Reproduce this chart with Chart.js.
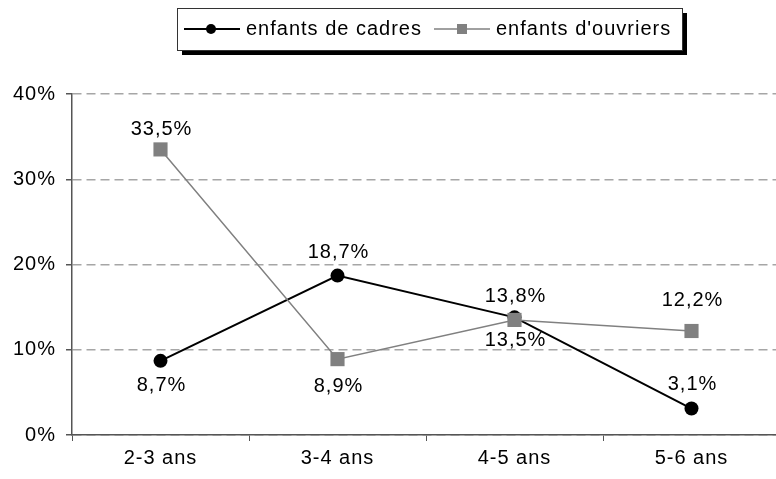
<!DOCTYPE html>
<html>
<head>
<meta charset="utf-8">
<script src="https://cdn.jsdelivr.net/npm/chart.js@4"></script>
<style>
  html, body { margin: 0; padding: 0; background: #fff; overflow: hidden; }
  #wrap { width: 790px; height: 479px; position: relative; }
</style>
</head>
<body>
<div id="wrap"><canvas id="chart"></canvas></div>
<script>
// data
const categories = ['2-3 ans', '3-4 ans', '4-5 ans', '5-6 ans'];
const cadres = [8.7, 18.7, 13.8, 3.1];
const ouvriers = [33.5, 8.9, 13.5, 12.2];
const seriesNames = ['enfants de cadres', "enfants d'ouvriers"];
const yTicks = [0, 10, 20, 30, 40];

// where each value label sits relative to its point (pixels, + is below)
const cadresLabelOffset = [25, -23, -21, -24];
const ouvriersLabelOffset = [-20, 27, 21, -31];

const FONT = 'Arial, "Liberation Sans", sans-serif';
const FONT_SIZE = 20;
const SPACING = '1px';

function fmt(v) {
    return v.toFixed(1).replace('.', ',') + '%';
}

// the original text is stretched wide; a bit of letter spacing gets close
const wideText = {
    id: 'wideText',
    beforeDraw(chart) {
        chart.ctx.letterSpacing = SPACING;
    }
};

// value labels next to points
const valueLabels = {
    id: 'valueLabels',
    afterDatasetsDraw(chart) {
        const ctx = chart.ctx;
        ctx.save();
        ctx.letterSpacing = SPACING;
        ctx.font = FONT_SIZE + 'px ' + FONT;
        ctx.fillStyle = '#000';
        ctx.textAlign = 'center';
        ctx.textBaseline = 'middle';
        chart.data.datasets.forEach((ds, i) => {
            const meta = chart.getDatasetMeta(i);
            meta.data.forEach((pt, j) => {
                ctx.fillText(fmt(ds.data[j]), pt.x + 1, pt.y + ds.labelOffset[j]);
            });
        });
        ctx.restore();
    }
};

// boxed legend with drop shadow at the top
const boxLegend = {
    id: 'boxLegend',
    afterDraw(chart) {
        const ctx = chart.ctx;
        ctx.save();
        const x = 177, y = 8, w = 505, h = 42;
        ctx.fillStyle = '#000';
        ctx.fillRect(x + 5, y + 5, w, h);
        ctx.fillStyle = '#fff';
        ctx.fillRect(x, y, w, h);
        ctx.strokeStyle = '#333';
        ctx.lineWidth = 1;
        ctx.strokeRect(x + 0.5, y + 0.5, w, h);

        const cy = 29;
        ctx.letterSpacing = SPACING;
        ctx.font = FONT_SIZE + 'px ' + FONT;
        ctx.textBaseline = 'middle';
        ctx.textAlign = 'left';

        // cadres
        ctx.strokeStyle = '#000';
        ctx.lineWidth = 2;
        ctx.beginPath();
        ctx.moveTo(184, cy);
        ctx.lineTo(240, cy);
        ctx.stroke();
        ctx.fillStyle = '#000';
        ctx.beginPath();
        ctx.arc(211, cy, 5, 0, Math.PI * 2);
        ctx.fill();
        ctx.fillText(seriesNames[0], 246, cy);

        // ouvriers
        ctx.strokeStyle = '#808080';
        ctx.lineWidth = 1.5;
        ctx.beginPath();
        ctx.moveTo(434, cy);
        ctx.lineTo(490, cy);
        ctx.stroke();
        ctx.fillStyle = '#808080';
        ctx.fillRect(457, cy - 5, 10, 10);
        ctx.fillStyle = '#000';
        ctx.fillText(seriesNames[1], 496, cy);
        ctx.restore();
    }
};

const ctx = document.getElementById('chart').getContext('2d');
const chart = new Chart(ctx, {
    type: 'line',
    data: {
        labels: categories,
        datasets: [{
            label: seriesNames[1],
            data: ouvriers,
            labelOffset: ouvriersLabelOffset,
            borderColor: '#808080',
            backgroundColor: '#808080',
            borderWidth: 1.5,
            pointStyle: 'rect',
            pointRadius: 10,
            pointBorderWidth: 0,
            tension: 0
        }, {
            label: seriesNames[0],
            data: cadres,
            labelOffset: cadresLabelOffset,
            borderColor: '#000',
            backgroundColor: '#000',
            borderWidth: 2,
            pointStyle: 'circle',
            pointRadius: 7,
            pointBorderWidth: 0,
            tension: 0
        }]
    },
    options: {
        responsive: true,
        maintainAspectRatio: false,
        animation: false,
        events: [],
        layout: {
            padding: { top: 94, right: 2, left: 0, bottom: 0 }
        },
        plugins: {
            legend: { display: false },
            tooltip: { enabled: false }
        },
        scales: {
            x: {
                offset: true,
                grid: {
                    offset: true,
                    drawOnChartArea: false,
                    drawTicks: true,
                    tickLength: 6,
                    tickColor: '#555'
                },
                border: { color: '#555', width: 1.5 },
                ticks: {
                    color: '#000',
                    font: { size: FONT_SIZE, family: FONT },
                    padding: 5,
                    maxRotation: 0
                },
                afterFit(scale) { scale.height = 44; }
            },
            y: {
                min: yTicks[0],
                max: yTicks[yTicks.length - 1],
                afterBuildTicks(scale) {
                    scale.ticks = yTicks.map(v => ({ value: v }));
                },
                grid: {
                    color: '#a6a6a6',
                    lineWidth: 1.5,
                    drawTicks: true,
                    tickLength: 6,
                    tickColor: '#555',
                    tickBorderDash: []
                },
                // in v4 the grid line dash is read from border.dash
                border: { color: '#555', width: 1.5, dash: [9, 5] },
                ticks: {
                    color: '#000',
                    font: { size: FONT_SIZE, family: FONT },
                    padding: 10,
                    callback: v => v + '%'
                },
                afterFit(scale) { scale.width = 72; }
            }
        }
    },
    plugins: [wideText, valueLabels, boxLegend]
});
</script>
</body>
</html>
